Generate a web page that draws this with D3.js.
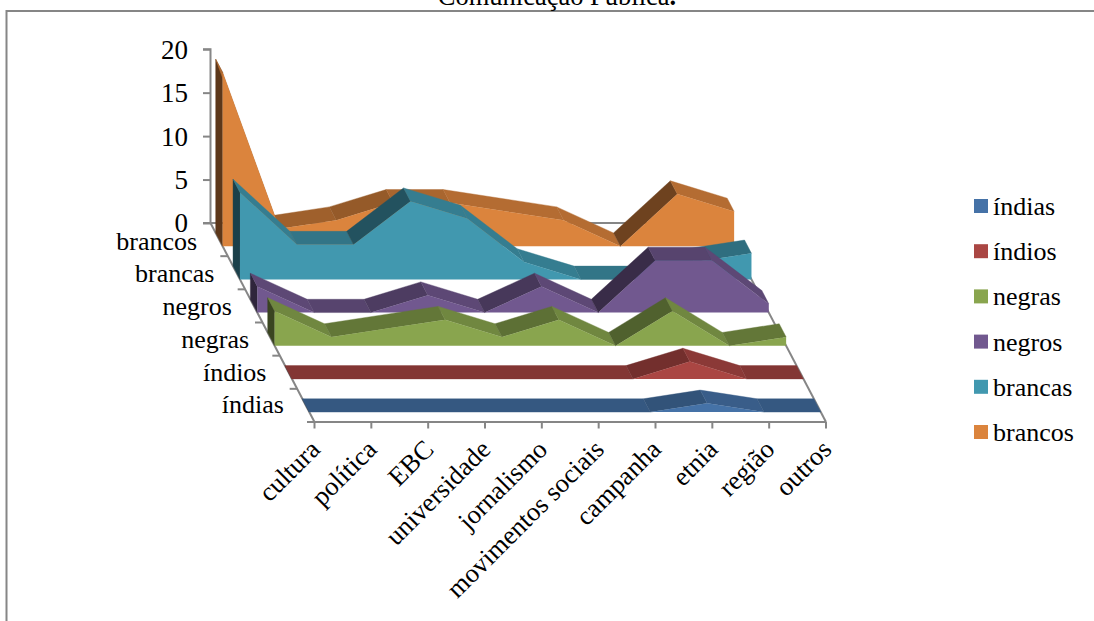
<!DOCTYPE html>
<html>
<head>
<meta charset="utf-8">
<script src="https://cdnjs.cloudflare.com/ajax/libs/d3/7.8.5/d3.min.js"></script>
<style>
html,body{margin:0;padding:0;background:#fff;overflow:hidden}
text{font-family:"Liberation Serif",serif;fill:#000}
</style>
</head>
<body>
<svg id="chart" width="1094" height="621"></svg>
<script>
// Categories along the floor of the 3D area chart
const categories = ["cultura","política","EBC","universidade","jornalismo","movimentos sociais","campanha","etnia","região","outros"];
// Series, listed front to back
const seriesNames = ["índias","índios","negras","negros","brancas","brancos"];
const indias  = [0,0,0,0,0,0,0,1,0,0];
const indios  = [0,0,0,0,0,0,0,2,0,0];
const negras  = [4,1,2,3,1,3,0,4,0,1];
const negros  = [3,0,0,2,0,3,0,6,6,1];
const brancas = [10,4,4,9,7,2,0,0,2,3];
const brancos = [20,2,3,5,5,4,3,0,6,4];
const seriesValues = [indias,indios,negras,negros,brancas,brancos];
const seriesColors = ["#4572a7","#aa4643","#89a54e","#71588f","#4198af","#db843d"];
const valueTicks = [0,5,10,15,20];
const chartTitle = "Comunicação Pública";

const svg = d3.select("#chart");
const axisGrey = "#868686";

// Oblique projection: x runs along the floor front edge, depth recedes up and to the left
const xScale = d3.scalePoint().domain(categories).range([314.5, 826]);
const yScale = d3.scaleLinear().domain([0, 20]).range([0, -173.8]);
const depthScale = d3.scaleLinear().domain([0, 6]).range([0, 1]);
const depthDx = -104, depthDy = -199;
const floorY = 422;
function project(cat, slot, value) {
  const t = depthScale(slot);
  return [xScale(cat) + depthDx * t, floorY + depthDy * t + yScale(value)];
}
const lineGen = d3.line();

// Chart frame and the title that runs off the top edge
svg.append("path")
  .attr("d", lineGen([[6.5,621],[6.5,11],[1094,11]]))
  .attr("fill","none").attr("stroke",axisGrey).attr("stroke-width",2);
const title = svg.append("text").attr("x",557).attr("y",5).attr("text-anchor","middle")
  .style("font-size","26.5px").text(chartTitle);
title.append("tspan").style("font-weight","bold").text(".");

// Back wall floor line, depth edges and floor front edge
const backY = floorY + depthDy;
const axisG = svg.append("g").attr("fill","none").attr("stroke",axisGrey).attr("stroke-width",2);
axisG.append("path").attr("d", lineGen([project(categories[0],6,0), project(categories[9],6,0)]));
axisG.append("path").attr("d", lineGen([project(categories[9],6,0), project(categories[9],0,0)]));
axisG.append("path").attr("d", lineGen([project(categories[0],6,0), project(categories[0],0,0)]));
axisG.append("path").attr("d", lineGen([project(categories[0],0,0), project(categories[9],0,0)]));

// Value axis on the back left corner
const [wallX] = project(categories[0],6,0);
const yAxisScale = d3.scaleLinear().domain([0,20]).range([backY, backY - 173.8]);
const yAxis = d3.axisLeft(yAxisScale).tickValues(valueTicks).tickSize(7.5).tickPadding(15).tickFormat(d3.format("d"));
const yg = svg.append("g").attr("transform",`translate(${wallX},0)`).call(yAxis);
yg.selectAll("path,line").attr("stroke",axisGrey).attr("stroke-width",2);
yg.select(".domain").attr("d",`M0,${backY}V${backY-173.8}H-7.5`);
yg.selectAll("text").attr("font-family","Liberation Serif").style("font-size","27px").attr("dy","0.33em");

// Floor ticks and rotated category labels
const catG = svg.append("g");
categories.forEach(c => {
  const [x,y] = project(c,0,0);
  catG.append("line").attr("x1",x).attr("x2",x).attr("y1",y).attr("y2",y+6.5)
    .attr("stroke",axisGrey).attr("stroke-width",2);
  catG.append("text").attr("transform",`translate(${x+7},${y+29}) rotate(-45)`)
    .attr("text-anchor","end").style("font-size","26.5px").text(c);
});

// Depth ticks and series names along the left floor edge
const depthG = svg.append("g");
d3.range(0,7).forEach(k => {
  const [x,y] = project(categories[0],k,0);
  depthG.append("line").attr("x1",x-7.5).attr("x2",x).attr("y1",y).attr("y2",y)
    .attr("stroke",axisGrey).attr("stroke-width",2);
});
seriesNames.forEach((name,i) => {
  const [x,y] = project(categories[0],i+0.5,0);
  depthG.append("text").attr("x",x-22).attr("y",y+8+i*0.4).attr("text-anchor","end")
    .style("font-size","26px").text(name);
});

// Shade applied to a top facet, from its rise over run
function facetShade(rise, run) {
  const s = rise / run;
  return s >= 0 ? Math.max(0.5, 0.77 - 0.3 * s) : 0.82;
}
function tint(color, f) {
  const c = d3.rgb(color);
  return d3.rgb(c.r*f, c.g*f, c.b*f).formatHex();
}

// Each ribbon occupies the middle of its depth slot; paint back to front
const frontT = 0.30, backT = 0.70;
d3.range(5,-1,-1).forEach(i => {
  const vals = seriesValues[i], col = seriesColors[i];
  const g = svg.append("g").attr("class","series");
  const F = (k,v) => project(categories[k], i + frontT, v);
  const B = (k,v) => project(categories[k], i + backT, v);
  // left end cap
  g.append("path").attr("fill",tint(col,0.42)).attr("stroke",tint(col,0.42)).attr("stroke-width",0.4)
    .attr("d", lineGen([F(0,0),B(0,0),B(0,vals[0]),F(0,vals[0])])+"Z");
  // top facets; runs with the same step between neighbours form one facet
  let start = 0;
  for (let k=0;k<vals.length-1;k++) {
    const step = vals[k+1]-vals[k];
    if (k+2 < vals.length && vals[k+2]-vals[k+1] === step) continue;
    const a=F(start,vals[start]), b=F(k+1,vals[k+1]);
    const f=tint(col, facetShade(step*173.8/20, (b[0]-a[0])/(k+1-start)));
    g.append("path").attr("fill",f).attr("stroke",f).attr("stroke-width",0.4)
      .attr("d", lineGen([a,b,B(k+1,vals[k+1]),B(start,vals[start])])+"Z");
    start = k+1;
  }
  // front face
  g.append("path").datum(vals).attr("fill",col)
    .attr("d", d3.area().x((d,k)=>F(k,0)[0]).y0(()=>F(0,0)[1]).y1((d,k)=>F(k,d)[1]));
});

// Legend, top entry first
const legendY = d3.scalePoint().domain(seriesNames).range([206, 432]);
const legend = svg.append("g");
seriesNames.forEach((name,i) => {
  legend.append("rect").attr("x",974).attr("y",legendY(name)-7).attr("width",14).attr("height",14).attr("fill",seriesColors[i]);
  legend.append("text").attr("x",993).attr("y",legendY(name)+9).style("font-size","26px").text(name);
});
</script>
</body>
</html>
